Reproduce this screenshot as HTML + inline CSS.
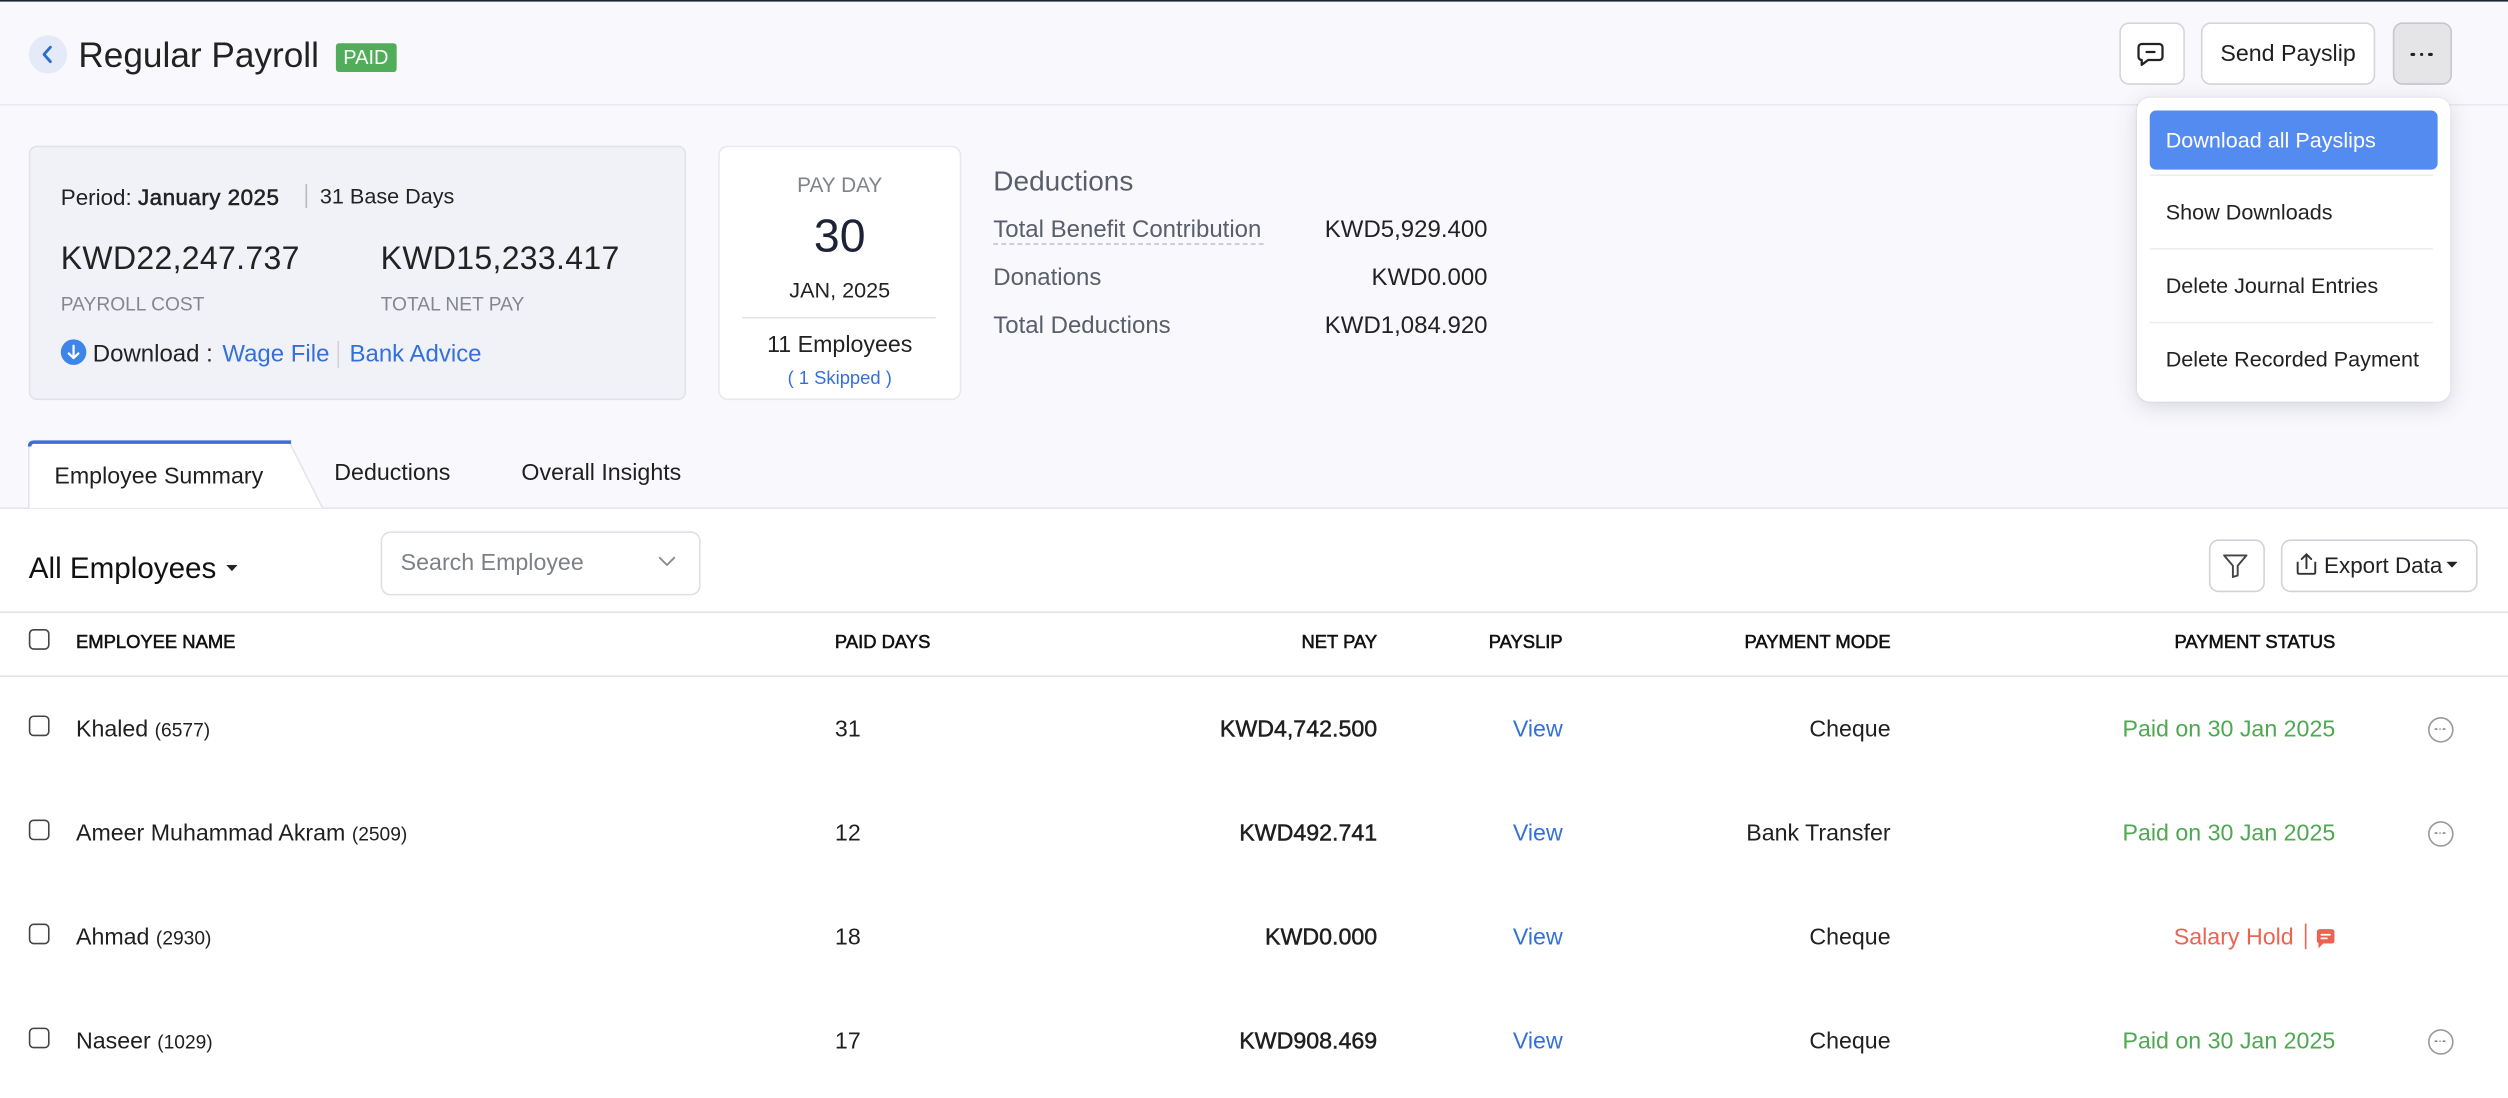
<!DOCTYPE html>
<html><head><meta charset="utf-8">
<style>
html,body{margin:0;padding:0;width:2508px;height:1098px;overflow:hidden;background:#fff}
#s{position:absolute;left:0;top:0;width:1568px;height:686px;transform:scale(1.59949,1.60058);transform-origin:0 0;font-family:"Liberation Sans",Arial,sans-serif;color:#222;background:#fff;overflow:hidden}
.a{position:absolute}
.t{position:absolute;white-space:nowrap;height:20px;line-height:20px}
.r{text-align:right}
.cb{position:absolute;width:11px;height:11px;border:1.2px solid #444;border-radius:3px;background:#fff}
.hd{font-size:11.5px;color:#111;-webkit-text-stroke:0.35px #111}
.nm{font-size:14.5px;color:#1f1f1f}
.nm small{font-size:12px}
.np{font-size:14.5px;color:#1f1f1f;-webkit-text-stroke:0.3px #1f1f1f}
.vw{font-size:14.5px;color:#3470dc}
.md{font-size:14.5px;color:#1f1f1f}
.pd{font-size:14.5px;color:#4ea852}
.el{position:absolute;width:14px;height:14px;border:1.2px solid #9a9a9a;border-radius:50%}
.el i{position:absolute;top:6.3px;width:1.6px;height:1.6px;border-radius:50%;background:#888}
.sep{position:absolute;height:1px;background:#ececf1}
</style></head><body><div id="s">

<!-- backgrounds -->
<div class="a" style="left:0;top:0;width:1568px;height:317px;background:#f9f9fd"></div>
<div class="a" style="left:0;top:0;width:1568px;height:0.8px;background:#1e2436"></div>
<div class="a" style="left:0;top:65px;width:1568px;height:1px;background:#e9e9ef"></div>

<!-- header -->
<div class="a" style="left:17.5px;top:22px;width:24px;height:24px;border-radius:50%;background:#e4eaf7"></div>
<svg class="a" style="left:24px;top:28px" width="12" height="12" viewBox="0 0 12 12"><path d="M7.5 1.5 L3.5 6 L7.5 10.5" fill="none" stroke="#2f6bd8" stroke-width="1.8" stroke-linecap="round" stroke-linejoin="round"/></svg>
<div class="t" style="left:49px;top:23.5px;height:22px;line-height:22px;font-size:22px;color:#222">Regular Payroll</div>
<div class="a" style="left:209.5px;top:26.5px;width:38.5px;height:18.5px;background:#52ad5a;border-radius:2px;color:#fff;font-size:12.5px;line-height:19px;text-align:center">PAID</div>

<!-- right buttons -->
<div class="a" style="left:1325px;top:14px;width:39px;height:37px;border:1px solid #d4d4da;border-radius:6px;background:#fff"></div>
<svg class="a" style="left:1336px;top:26px" width="18" height="16" viewBox="0 0 18 16"><path d="M3 1.5 H14 a2 2 0 0 1 2 2 V9.5 a2 2 0 0 1 -2 2 H7 L3 14.5 V11.5 H3 a2 2 0 0 1 -2 -2 V3.5 a2 2 0 0 1 2 -2 Z" fill="none" stroke="#222" stroke-width="1.4" stroke-linejoin="round"/><path d="M6 6.5 H11" stroke="#222" stroke-width="1.4" stroke-linecap="round"/></svg>
<div class="a" style="left:1376px;top:14px;width:107px;height:37px;border:1px solid #d4d4da;border-radius:6px;background:#fff;font-size:14.5px;line-height:38px;text-align:center;color:#1f1f1f">Send Payslip</div>
<div class="a" style="left:1496px;top:14px;width:35px;height:37px;border:1px solid #c6c6cc;border-radius:6px;background:#e5e5e8"></div>
<div class="a" style="left:1507px;top:32.7px;width:2.8px;height:2.8px;border-radius:50%;background:#222"></div>
<div class="a" style="left:1512.6px;top:32.7px;width:2.8px;height:2.8px;border-radius:50%;background:#222"></div>
<div class="a" style="left:1518.2px;top:32.7px;width:2.8px;height:2.8px;border-radius:50%;background:#222"></div>

<!-- card 1 -->
<div class="a" style="left:18px;top:91px;width:409px;height:157px;background:#f1f2f7;border:1px solid #e2e3ea;border-radius:5px"></div>
<div class="t" style="left:38px;top:112.5px;font-size:14px;color:#222">Period: <span style="-webkit-text-stroke:0.35px #222;letter-spacing:0.3px">January 2025</span></div>
<div class="a" style="left:190.5px;top:115px;width:1px;height:15px;background:#b8b9c0"></div>
<div class="t" style="left:200px;top:112.5px;font-size:13.5px;color:#222">31 Base Days</div>
<div class="t" style="left:38px;top:152px;font-size:20px;color:#222;letter-spacing:0.2px">KWD22,247.737</div>
<div class="t" style="left:238px;top:152px;font-size:20px;color:#222;letter-spacing:0.2px">KWD15,233.417</div>
<div class="t" style="left:38px;top:180px;font-size:12px;color:#85878f">PAYROLL COST</div>
<div class="t" style="left:238px;top:180px;font-size:12px;color:#85878f">TOTAL NET PAY</div>
<div class="a" style="left:38px;top:212px;width:16px;height:16px;border-radius:50%;background:#3d85e8"></div>
<svg class="a" style="left:38px;top:212px" width="16" height="16" viewBox="0 0 16 16"><path d="M8 4 V11.5 M5 8.8 L8 11.7 L11 8.8" fill="none" stroke="#fff" stroke-width="1.4" stroke-linecap="round" stroke-linejoin="round"/></svg>
<div class="t" style="left:58px;top:211.5px;font-size:15px;color:#222">Download :</div>
<div class="t" style="left:139px;top:211.5px;font-size:15px;color:#3470dc">Wage File</div>
<div class="a" style="left:210.5px;top:213px;width:1px;height:17px;background:#d2d3da"></div>
<div class="t" style="left:218.5px;top:211.5px;font-size:15px;color:#3470dc">Bank Advice</div>

<!-- card 2 -->
<div class="a" style="left:449px;top:91px;width:150px;height:157px;background:#fff;border:1px solid #e8e8ee;border-radius:6px"></div>
<div class="t" style="left:449px;width:152px;text-align:center;top:106px;font-size:13px;color:#80828a">PAY DAY</div>
<div class="t" style="left:449px;width:152px;text-align:center;top:133px;height:30px;line-height:30px;font-size:29px;color:#1d2237">30</div>
<div class="t" style="left:449px;width:152px;text-align:center;top:172px;font-size:13.5px;color:#222">JAN, 2025</div>
<div class="a" style="left:464px;top:197.5px;width:121px;height:1.2px;background:#e3e3e8"></div>
<div class="t" style="left:449px;width:152px;text-align:center;top:205.5px;font-size:14.5px;color:#222">11 Employees</div>
<div class="t" style="left:449px;width:152px;text-align:center;top:226.5px;font-size:11.5px;color:#3470dc">( 1 Skipped )</div>

<!-- deductions -->
<div class="t" style="left:621px;top:102.5px;font-size:17.5px;color:#5a5e6a">Deductions</div>
<div class="t" style="left:621px;top:134px;font-size:15px;color:#5a5e6a">Total Benefit Contribution</div>
<div class="a" style="left:621px;top:151.5px;width:169px;height:0;border-top:1px dashed #c2c3cc"></div>
<div class="t r" style="right:638px;top:134px;font-size:15px;color:#222">KWD5,929.400</div>
<div class="t" style="left:621px;top:164px;font-size:15px;color:#5a5e6a">Donations</div>
<div class="t r" style="right:638px;top:164px;font-size:15px;color:#222">KWD0.000</div>
<div class="t" style="left:621px;top:194px;font-size:15px;color:#5a5e6a">Total Deductions</div>
<div class="t r" style="right:638px;top:194px;font-size:15px;color:#222">KWD1,084.920</div>

<!-- dropdown -->
<div class="a" style="left:1336px;top:61px;width:196px;height:190px;background:#fff;border-radius:8px;box-shadow:0 3px 14px rgba(30,30,60,0.16),0 0 1px rgba(0,0,0,0.12)"></div>
<div class="a" style="left:1344px;top:69px;width:180px;height:37px;background:#548bf0;border-radius:4px"></div>
<div class="t" style="left:1354px;top:77.5px;font-size:13.5px;color:#fff">Download all Payslips</div>
<div class="sep" style="left:1344px;top:109px;width:177px"></div>
<div class="t" style="left:1354px;top:123px;font-size:13.5px;color:#222">Show Downloads</div>
<div class="sep" style="left:1344px;top:155px;width:177px"></div>
<div class="t" style="left:1354px;top:168.5px;font-size:13.5px;color:#222">Delete Journal Entries</div>
<div class="sep" style="left:1344px;top:201px;width:177px"></div>
<div class="t" style="left:1354px;top:214.5px;font-size:13.5px;color:#222">Delete Recorded Payment</div>

<!-- tabs -->
<div class="a" style="left:0;top:316.5px;width:1568px;height:1px;background:#e6e6ec"></div>
<svg class="a" style="left:0;top:270px" width="220" height="50" viewBox="0 270 220 50">
  <path d="M18 317.5 V280 Q18 276.5 21.5 276.5 H181 L201.5 317.5 Z" fill="#fff"/>
  <path d="M18 317.5 V280 Q18 276.5 21.5 276.5" fill="none" stroke="#e4e4ea" stroke-width="1"/>
  <path d="M181 276.5 L201.5 317" fill="none" stroke="#e4e4ea" stroke-width="1"/>
  <path d="M18.5 279 Q18.5 276.2 21.5 276.2 H182" fill="none" stroke="#3b6fd6" stroke-width="2.2"/>
</svg>
<div class="t" style="left:34px;top:288px;font-size:14.5px;color:#1f1f1f">Employee Summary</div>
<div class="t" style="left:209px;top:286px;font-size:14.5px;color:#1f1f1f">Deductions</div>
<div class="t" style="left:326px;top:286px;font-size:14.5px;color:#1f1f1f">Overall Insights</div>

<!-- toolbar -->
<div class="t" style="left:18px;top:344px;height:22px;line-height:22px;font-size:18.5px;color:#111">All Employees</div>
<svg class="a" style="left:141px;top:352px" width="8" height="6" viewBox="0 0 8 6"><path d="M0.5 1 H7.5 L4 4.8 Z" fill="#222"/></svg>
<div class="a" style="left:237.5px;top:332px;width:198px;height:38px;border:1px solid #dfdfe5;border-radius:6px;background:#fff"></div>
<div class="t" style="left:250.5px;top:341.5px;font-size:14.5px;color:#7d8089">Search Employee</div>
<svg class="a" style="left:411px;top:346px" width="12" height="9" viewBox="0 0 12 9"><path d="M1.5 2.5 L6 7 L10.5 2.5" fill="none" stroke="#8a8c94" stroke-width="1.2" stroke-linecap="round" stroke-linejoin="round"/></svg>

<div class="a" style="left:1380.5px;top:337px;width:33px;height:31px;border:1px solid #d2d2d8;border-radius:6px;background:#fff"></div>
<svg class="a" style="left:1389px;top:345px" width="17" height="17" viewBox="0 0 17 17"><path d="M1.5 2 H15.5 L10 8.5 V14.5 L7 15.5 V8.5 Z" fill="none" stroke="#444" stroke-width="1.2" stroke-linejoin="round"/></svg>
<div class="a" style="left:1425.5px;top:337px;width:121px;height:31px;border:1px solid #d2d2d8;border-radius:6px;background:#fff"></div>
<svg class="a" style="left:1434px;top:345px" width="16" height="15" viewBox="0 0 16 15"><path d="M2.5 6 V12.5 Q2.5 13.5 3.5 13.5 H12.5 Q13.5 13.5 13.5 12.5 V6" fill="none" stroke="#333" stroke-width="1.2" stroke-linejoin="round"/><path d="M8 10 V1.5 M5 4.3 L8 1.3 L11 4.3" fill="none" stroke="#333" stroke-width="1.2" stroke-linecap="round" stroke-linejoin="round"/></svg>
<div class="t" style="left:1453px;top:342.5px;font-size:14px;color:#222">Export Data</div>
<svg class="a" style="left:1529px;top:350px" width="8" height="6" viewBox="0 0 8 6"><path d="M0.5 1 H7.5 L4 4.6 Z" fill="#222"/></svg>

<!-- table header -->
<div class="a" style="left:0;top:382px;width:1568px;height:1px;background:#e2e2e7"></div>
<div class="a" style="left:0;top:422px;width:1568px;height:1px;background:#e2e2e7"></div>
<div class="cb" style="left:18px;top:393px"></div>
<div class="t hd" style="left:47.5px;top:392px">EMPLOYEE NAME</div>
<div class="t hd" style="left:522px;top:392px">PAID DAYS</div>
<div class="t hd r" style="right:707px;top:392px">NET PAY</div>
<div class="t hd r" style="right:591px;top:392px">PAYSLIP</div>
<div class="t hd r" style="right:386px;top:392px">PAYMENT MODE</div>
<div class="t hd r" style="right:108px;top:392px">PAYMENT STATUS</div>

<!-- row 1 -->
<div class="cb" style="left:18px;top:446.5px"></div>
<div class="t nm" style="left:47.5px;top:445.5px">Khaled <small>(6577)</small></div>
<div class="t md" style="left:522px;top:445.5px">31</div>
<div class="t np r" style="right:707px;top:445.5px">KWD4,742.500</div>
<div class="t vw r" style="right:591px;top:445.5px">View</div>
<div class="t md r" style="right:386px;top:445.5px">Cheque</div>
<div class="t pd r" style="right:108px;top:445.5px">Paid on 30 Jan 2025</div>
<div class="el" style="left:1517.5px;top:447.5px"><i style="left:3.6px"></i><i style="left:6.2px"></i><i style="left:8.8px"></i></div>

<!-- row 2 -->
<div class="cb" style="left:18px;top:511.5px"></div>
<div class="t nm" style="left:47.5px;top:510.5px">Ameer Muhammad Akram <small>(2509)</small></div>
<div class="t md" style="left:522px;top:510.5px">12</div>
<div class="t np r" style="right:707px;top:510.5px">KWD492.741</div>
<div class="t vw r" style="right:591px;top:510.5px">View</div>
<div class="t md r" style="right:386px;top:510.5px">Bank Transfer</div>
<div class="t pd r" style="right:108px;top:510.5px">Paid on 30 Jan 2025</div>
<div class="el" style="left:1517.5px;top:512.5px"><i style="left:3.6px"></i><i style="left:6.2px"></i><i style="left:8.8px"></i></div>

<!-- row 3 -->
<div class="cb" style="left:18px;top:576.5px"></div>
<div class="t nm" style="left:47.5px;top:575.5px">Ahmad <small>(2930)</small></div>
<div class="t md" style="left:522px;top:575.5px">18</div>
<div class="t np r" style="right:707px;top:575.5px">KWD0.000</div>
<div class="t vw r" style="right:591px;top:575.5px">View</div>
<div class="t md r" style="right:386px;top:575.5px">Cheque</div>
<div class="t r" style="right:134px;top:575.5px;font-size:14.5px;color:#ec6353">Salary Hold</div>
<div class="a" style="left:1440.5px;top:577px;width:1.3px;height:16px;background:#ec6353"></div>
<svg class="a" style="left:1447.5px;top:580px" width="12" height="13" viewBox="0 0 12 13"><path d="M2.5 0.5 H9.5 Q11.5 0.5 11.5 2.5 V7.5 Q11.5 9.5 9.5 9.5 H4.5 L1.5 12.5 V9.3 Q0.5 8.8 0.5 7.5 V2.5 Q0.5 0.5 2.5 0.5 Z" fill="#ec6353"/><path d="M3.3 4 H8.7 M3.3 6.3 H6.8" stroke="#fff" stroke-width="1.1" stroke-linecap="round"/></svg>

<!-- row 4 -->
<div class="cb" style="left:18px;top:641.5px"></div>
<div class="t nm" style="left:47.5px;top:640.5px">Naseer <small>(1029)</small></div>
<div class="t md" style="left:522px;top:640.5px">17</div>
<div class="t np r" style="right:707px;top:640.5px">KWD908.469</div>
<div class="t vw r" style="right:591px;top:640.5px">View</div>
<div class="t md r" style="right:386px;top:640.5px">Cheque</div>
<div class="t pd r" style="right:108px;top:640.5px">Paid on 30 Jan 2025</div>
<div class="el" style="left:1517.5px;top:642.5px"><i style="left:3.6px"></i><i style="left:6.2px"></i><i style="left:8.8px"></i></div>

</div></body></html>
